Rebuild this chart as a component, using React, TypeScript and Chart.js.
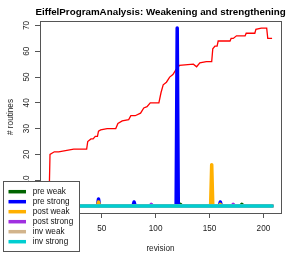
import React, { useEffect, useRef } from "react";
import { Chart, registerables } from "chart.js";

Chart.register(...registerables);

const TITLE = "EiffelProgramAnalysis: Weakening and strengthening";
const X_LABEL = "revision";
const Y_LABEL = "# routines";
const xTickValues = [0, 50, 100, 150, 200];
const yTickValues = [0, 10, 20, 30, 40, 50, 60, 70];
const firstRevision = 1;
const lastRevision = 208;

// total routines (red line)
const routineRevisions = [1, 2, 6, 10, 24, 36, 37, 40, 42, 44, 46, 47, 49, 55, 63, 65, 69, 75, 77, 81, 86, 89, 92, 95, 103, 105, 107, 110, 113, 116, 119, 122, 135, 138, 141, 147, 152, 153, 155, 157, 158, 169, 170, 172, 175, 183, 184, 192, 193, 198, 203, 204, 208];
const routineCounts = [0, 20, 21, 21, 22, 22, 25, 26, 26, 27, 27, 29, 29.5, 30, 30, 32, 33, 33.5, 35, 35, 36, 38, 38.5, 40, 40, 44, 47, 48, 50, 51, 53, 54.5, 55, 54, 55.5, 56, 56, 61, 62, 62, 64, 64, 65, 65, 66, 66, 67, 67, 68.5, 69, 69, 65, 65];

const seriesNames = ["pre weak", "pre strong", "post weak", "post strong", "inv weak", "inv strong"];
const seriesColors = ["#006400", "#0000FF", "#FFB000", "#A030E0", "#D2B48C", "#00CED1"];

const preWeakRevisions = [123, 180];
const preWeakValues = [0.6, 0.6];
const preStrongRevisions = [47, 80, 120, 160];
const preStrongValues = [2.7, 1.5, 69, 1.5];
const postWeakRevisions = [47, 152, 160];
const postWeakValues = [1.5, 16, 0.6];
const postStrongRevisions = [96, 172];
const postStrongValues = [0.6, 0.6];
const invWeakRevisions: number[] = [];
const invWeakValues: number[] = [];
const invStrongRevisions: number[] = [];
const invStrongValues: number[] = [];

const FONT = '"Liberation Sans", Arial, sans-serif';

function spikeSeries(revs: number[], vals: number[]) {
  const pts: { x: number; y: number }[] = [{ x: firstRevision, y: 0 }];
  revs.forEach((r, i) => {
    pts.push({ x: r - 1, y: 0 }, { x: r, y: vals[i] }, { x: r + 1, y: 0 });
  });
  pts.push({ x: lastRevision, y: 0 });
  return pts;
}

const overlay = {
  id: "overlay",
  afterDraw(chart: any) {
    const { ctx, chartArea: a } = chart;
    ctx.save();
    ctx.strokeStyle = "#555";
    ctx.lineWidth = 1;
    ctx.strokeRect(Math.round(a.left) + 0.5, Math.round(a.top) + 0.5, Math.round(a.right - a.left), Math.round(a.bottom - a.top));
    // y tick labels (rotated, R style)
    const ys = chart.scales.y;
    ctx.fillStyle = "#222";
    ctx.font = `8.2px ${FONT}`;
    ctx.textAlign = "center";
    ctx.textBaseline = "middle";
    ys.ticks.forEach((t: any) => {
      const py = ys.getPixelForValue(t.value);
      ctx.save();
      ctx.translate(27, py);
      ctx.rotate(-Math.PI / 2);
      ctx.fillText(String(t.value), 0, 0);
      ctx.restore();
    });
    // title
    ctx.fillStyle = "#000";
    ctx.font = `bold 9.8px ${FONT}`;
    ctx.fillText(TITLE, (a.left + a.right) / 2, 12);
    // legend
    ctx.fillStyle = "#fff";
    ctx.fillRect(3, 181, 76, 70);
    ctx.strokeStyle = "#555";
    ctx.lineWidth = 1;
    ctx.strokeRect(3.5, 181.5, 76, 70);
    ctx.font = `8.2px ${FONT}`;
    ctx.textAlign = "left";
    const ds = chart.data.datasets.filter((d: any) => d.showInLegend);
    ds.forEach((d: any, i: number) => {
      const y = 191.7 + i * 10;
      ctx.strokeStyle = d.borderColor;
      ctx.lineWidth = 3.5;
      ctx.beginPath();
      ctx.moveTo(8.5, y);
      ctx.lineTo(26, y);
      ctx.stroke();
      ctx.fillStyle = "#111";
      ctx.fillText(d.label, 32.7, y);
    });
    ctx.restore();
  },
};

export default function App() {
  const ref = useRef<HTMLCanvasElement>(null);
  useEffect(() => {
    const spikeData = [
      spikeSeries(preWeakRevisions, preWeakValues),
      spikeSeries(preStrongRevisions, preStrongValues),
      spikeSeries(postWeakRevisions, postWeakValues),
      spikeSeries(postStrongRevisions, postStrongValues),
      spikeSeries(invWeakRevisions, invWeakValues),
      spikeSeries(invStrongRevisions, invStrongValues),
    ];
    const datasets: any[] = [
      {
        label: "routines",
        data: routineRevisions.map((r, i) => ({ x: r, y: routineCounts[i] })),
        borderColor: "#FF0000",
        borderWidth: 1.3,
        pointRadius: 0,
        order: 7,
        showInLegend: false,
      },
      ...seriesNames.map((name, i) => ({
        label: name,
        data: spikeData[i],
        borderColor: seriesColors[i],
        borderWidth: 3.5,
        borderCapStyle: "round",
        borderJoinStyle: "round",
        pointRadius: 0,
        order: 6 - i,
        showInLegend: true,
      })),
    ];
    const tickFont = { family: FONT, size: 8.2 };
    const chart = new Chart(ref.current!, {
      type: "line",
      data: { datasets },
      options: {
        animation: false,
        responsive: false,
        events: [],
        layout: { padding: { left: 0, top: 21, right: 13, bottom: 0 } },
        plugins: { legend: { display: false }, tooltip: { enabled: false }, title: { display: false } },
        scales: {
          x: {
            type: "linear",
            min: -7.28,
            max: 216.28,
            afterBuildTicks: (s: any) => {
              s.ticks = xTickValues.map((v) => ({ value: v }));
            },
            afterFit: (s: any) => {
              s.height = 41;
            },
            grid: { drawOnChartArea: false, color: "#555", tickLength: 5 },
            border: { display: false },
            ticks: { font: tickFont, color: "#222", padding: 5.5, maxRotation: 0, autoSkip: false },
            title: { display: true, text: X_LABEL, font: tickFont, color: "#222", padding: { top: 0, bottom: 0.6 } },
          },
          y: {
            type: "linear",
            min: -2.76,
            max: 71.76,
            afterBuildTicks: (s: any) => {
              s.ticks = yTickValues.map((v) => ({ value: v }));
            },
            afterFit: (s: any) => {
              s.width = 40;
            },
            grid: { drawOnChartArea: false, color: "#555", tickLength: 5 },
            border: { display: false },
            ticks: { display: false, autoSkip: false },
            title: { display: true, text: Y_LABEL, font: tickFont, color: "#222", padding: { top: 5.5, bottom: 0 } },
          },
        },
      } as any,
      plugins: [overlay],
    });
    return () => chart.destroy();
  }, []);
  return (
    <div style={{ position: "fixed", left: 0, top: 0, width: 294, height: 254, background: "#fff" }}>
      <canvas ref={ref} width={294} height={254} />
    </div>
  );
}
